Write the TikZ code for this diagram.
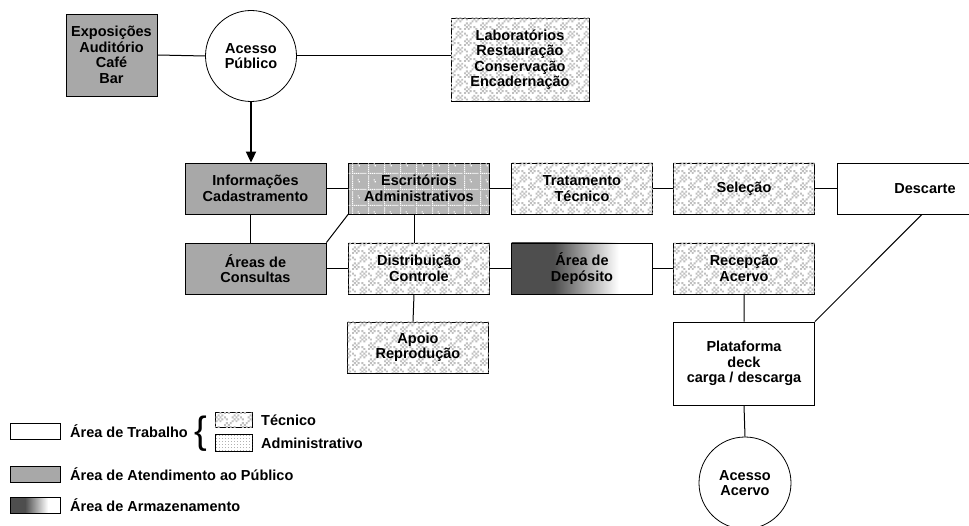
\documentclass[tikz,border=0pt]{standalone}
\usepackage{fontspec}
\setmainfont{Liberation Sans}
\usetikzlibrary{arrows.meta,patterns}
\definecolor{publico}{RGB}{168,168,168}
\definecolor{escuro}{RGB}{78,78,78}
\pgfdeclarehorizontalshading{deposito}{100bp}{color(0bp)=(escuro); color(40bp)=(escuro); color(63bp)=(white); color(100bp)=(white)}
\pgfdeclarepatternformonly{tecnico}{\pgfpointorigin}{\pgfpoint{16pt}{16pt}}{\pgfpoint{16pt}{16pt}}{%
	\pgfpathrectangle{\pgfpoint{0pt}{0pt}}{\pgfpoint{2pt}{2pt}}
	\pgfpathrectangle{\pgfpoint{2pt}{2pt}}{\pgfpoint{2pt}{2pt}}
	\pgfpathrectangle{\pgfpoint{4pt}{0pt}}{\pgfpoint{2pt}{2pt}}
	\pgfpathrectangle{\pgfpoint{0pt}{4pt}}{\pgfpoint{2pt}{2pt}}
	\pgfpathrectangle{\pgfpoint{4pt}{4pt}}{\pgfpoint{2pt}{2pt}}
	\pgfpathrectangle{\pgfpoint{2pt}{6pt}}{\pgfpoint{2pt}{2pt}}
	\pgfpathrectangle{\pgfpoint{6pt}{2pt}}{\pgfpoint{2pt}{2pt}}
	\pgfpathrectangle{\pgfpoint{6pt}{6pt}}{\pgfpoint{2pt}{2pt}}
	\pgfpathrectangle{\pgfpoint{8pt}{8pt}}{\pgfpoint{2pt}{2pt}}
	\pgfpathrectangle{\pgfpoint{10pt}{10pt}}{\pgfpoint{2pt}{2pt}}
	\pgfpathrectangle{\pgfpoint{12pt}{8pt}}{\pgfpoint{2pt}{2pt}}
	\pgfpathrectangle{\pgfpoint{8pt}{12pt}}{\pgfpoint{2pt}{2pt}}
	\pgfpathrectangle{\pgfpoint{12pt}{12pt}}{\pgfpoint{2pt}{2pt}}
	\pgfpathrectangle{\pgfpoint{10pt}{14pt}}{\pgfpoint{2pt}{2pt}}
	\pgfpathrectangle{\pgfpoint{14pt}{10pt}}{\pgfpoint{2pt}{2pt}}
	\pgfpathrectangle{\pgfpoint{14pt}{14pt}}{\pgfpoint{2pt}{2pt}}
	\pgfpathrectangle{\pgfpoint{10pt}{2pt}}{\pgfpoint{2pt}{2pt}}
	\pgfpathrectangle{\pgfpoint{2pt}{10pt}}{\pgfpoint{2pt}{2pt}}
	\pgfpathrectangle{\pgfpoint{12pt}{0pt}}{\pgfpoint{2pt}{2pt}}
	\pgfpathrectangle{\pgfpoint{0pt}{12pt}}{\pgfpoint{2pt}{2pt}}
	\pgfusepath{fill}}
\pgfdeclarepatternformonly{linhas}{\pgfpointorigin}{\pgfpoint{16pt}{16pt}}{\pgfpoint{16pt}{16pt}}{%
	\pgfpathrectangle{\pgfpoint{0pt}{0pt}}{\pgfpoint{1.2pt}{1.2pt}}
	\pgfpathrectangle{\pgfpoint{2pt}{0pt}}{\pgfpoint{1.2pt}{1.2pt}}
	\pgfpathrectangle{\pgfpoint{4pt}{0pt}}{\pgfpoint{1.2pt}{1.2pt}}
	\pgfpathrectangle{\pgfpoint{6pt}{0pt}}{\pgfpoint{1.2pt}{1.2pt}}
	\pgfpathrectangle{\pgfpoint{8pt}{0pt}}{\pgfpoint{1.2pt}{1.2pt}}
	\pgfpathrectangle{\pgfpoint{10pt}{0pt}}{\pgfpoint{1.2pt}{1.2pt}}
	\pgfpathrectangle{\pgfpoint{12pt}{0pt}}{\pgfpoint{1.2pt}{1.2pt}}
	\pgfpathrectangle{\pgfpoint{14pt}{0pt}}{\pgfpoint{1.2pt}{1.2pt}}
	\pgfpathrectangle{\pgfpoint{0pt}{2pt}}{\pgfpoint{1.2pt}{1.2pt}}
	\pgfpathrectangle{\pgfpoint{0pt}{4pt}}{\pgfpoint{1.2pt}{1.2pt}}
	\pgfpathrectangle{\pgfpoint{0pt}{6pt}}{\pgfpoint{1.2pt}{1.2pt}}
	\pgfpathrectangle{\pgfpoint{0pt}{8pt}}{\pgfpoint{1.2pt}{1.2pt}}
	\pgfpathrectangle{\pgfpoint{0pt}{10pt}}{\pgfpoint{1.2pt}{1.2pt}}
	\pgfpathrectangle{\pgfpoint{0pt}{12pt}}{\pgfpoint{1.2pt}{1.2pt}}
	\pgfpathrectangle{\pgfpoint{0pt}{14pt}}{\pgfpoint{1.2pt}{1.2pt}}
	\pgfpathrectangle{\pgfpoint{6pt}{10pt}}{\pgfpoint{1.2pt}{1.2pt}}
	\pgfpathrectangle{\pgfpoint{7pt}{8pt}}{\pgfpoint{1.2pt}{1.2pt}}
	\pgfusepath{fill}}
\pgfdeclarepatternformonly{grade}{\pgfpointorigin}{\pgfpoint{3pt}{3pt}}{\pgfpoint{3pt}{3pt}}{%
	\pgfpathrectangle{\pgfpointorigin}{\pgfpoint{1.2pt}{1.2pt}}
	\pgfusepath{fill}}
\begin{document}
\begin{tikzpicture}[x=1pt,y=-1pt,
	cx/.style={draw,line width=0.8pt,minimum width=141pt,minimum height=51pt,inner sep=0pt,align=center,font=\fontsize{14.5}{15.5}\selectfont\bfseries},
	pub/.style={cx,fill=publico},
	tec/.style={cx,fill=white,postaction={pattern=tecnico,pattern color=gray!50}},
	adm/.style={cx,fill=gray!58,postaction={pattern=linhas,pattern color=white}},
	admkey/.style={cx,fill=white,postaction={pattern=grade,pattern color=gray!60}},
	dep/.style={cx,shade,shading=deposito},
	circ/.style={cx,circle,fill=white,minimum size=91pt},
	key/.style={cx,minimum width=50pt,minimum height=16pt},
	rot/.style={anchor=west,inner sep=0pt,font=\fontsize{14.5}{15.5}\selectfont\bfseries},
	seta/.style={line width=1.8pt,-{Triangle[length=11pt,width=10pt]}}]
				\clip(0,0)rectangle(969,526);
				\path(111.5,55)node[pub,minimum width=91pt,minimum height=82pt](expo){Exposições\\Auditório\\Café\\Bar}
				(251,56)node[circ](acpub){Acesso\\Público}
				(520,59.5)node[tec,minimum width=138pt,minimum height=83pt](lab){Laboratórios\\Restauração\\Conservação\\Encadernação};
				\path(255.5,188.5)node[pub](info){Informações\\Cadastramento}
				++(163.5,0)node[adm](escr){Escritórios\\Administrativos}
				++(163,0)node[tec](trat){Tratamento\\Técnico}
				++(162,0)node[tec](sel){Seleção}
				++(181,0)node[cx,minimum width=176pt](desc){Descarte};
				\path(255.5,268.5)node[pub](cons){Áreas de\\Consultas}
				++(163.5,0)node[tec](dist){Distribuição\\Controle}
				++(163,0)node[dep](dep){Área de\\Depósito}
				++(162,0)node[tec](rec){Recepção\\Acervo};
				\path(418,347.5)node[tec](apoio){Apoio\\Reprodução};
				\path(744,363.5)node[cx,minimum height=83pt](plat){Plataforma\\deck\\carga / descarga}
				(745,483)node[circ,minimum size=92pt](acerv){Acesso\\Acervo};
				\foreach \x/\y in {
					expo/acpub,
					info/escr,escr/trat,trat/sel,sel/desc,
					cons/dist,dist/dep,dep/rec}
				\draw[line width=1pt](\x.east)--(\y.west);
				\foreach \x/\y in {info/cons,escr/dist,dist/apoio}
				\draw[line width=1pt]([xshift=-5pt]\x.south)--([xshift=-5pt]\y.north);
				\draw[line width=1pt](rec.south)--(plat.north)(plat.south)--(acerv.north);
				\draw[line width=1pt](acpub.east)--(acpub.east-|lab.west);
				\draw[line width=1pt](cons.north east)--(escr.south west);
				\draw[line width=1pt](plat.north east)--([xshift=-3pt]desc.south);
				\draw[seta](acpub.south)--(acpub.south|-info.north);
				\path(35,431)node[key,fill=white](ktrab){}
				(35,474)node[key,fill=publico](kpub){}
				(35,505)node[key,shade,shading=deposito](karm){};
				\path(70,431)node[rot](ttrab){Área de Trabalho}
				(70,474)node[rot](tpub){Área de Atendimento ao Público}
				(70,505)node[rot](tarm){Área de Armazenamento};
				\path(201,434)node[inner sep=0pt,font=\fontsize{38}{38}\selectfont](chave){\{};
				\path(233.5,419.5)node[tec,minimum width=37pt,minimum height=15pt](ktec){}
				(233.5,442.5)node[admkey,minimum width=37pt,minimum height=17pt](kadm){};
				\path(261,420)node[rot](ttec){Técnico}
				(261,443)node[rot](tadm){Administrativo};
			\end{tikzpicture}
\end{document}
